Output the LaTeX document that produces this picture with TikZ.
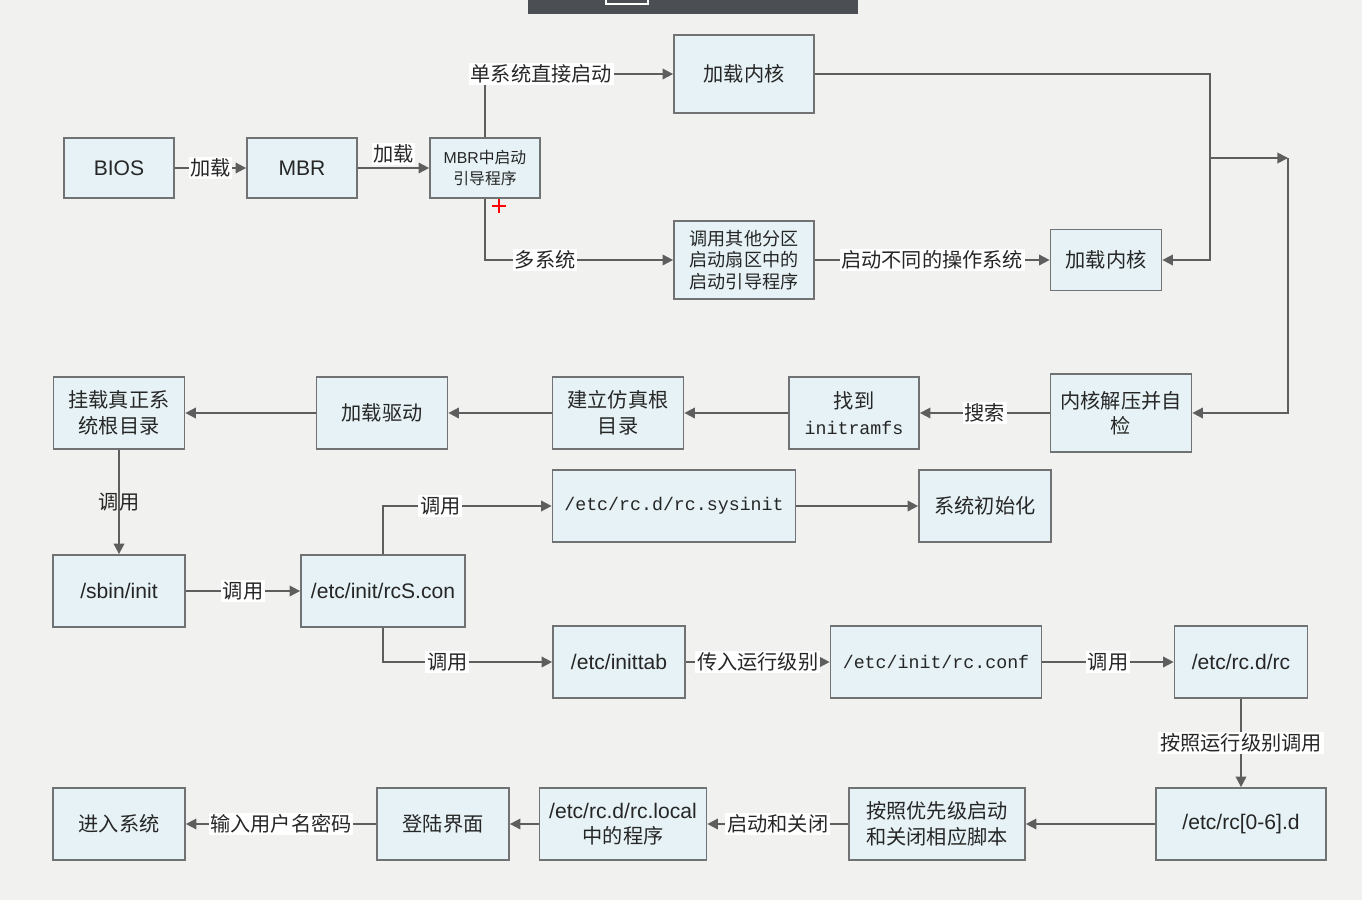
\documentclass[tikz,border=0pt]{standalone}
\usepackage{fontspec}
\setmainfont{Liberation Sans}
\newfontfamily\cjk{Noto Sans CJK SC}
\newfontfamily\monofont{Liberation Mono}
\usetikzlibrary{arrows.meta, positioning}
\definecolor{bgcol}{HTML}{F1F1EF}
\definecolor{barcol}{HTML}{4B4E53}
\definecolor{boxfill}{HTML}{E6F2F5}
\definecolor{boxline}{HTML}{707274}
\definecolor{linecol}{HTML}{5E5E5E}
\definecolor{textcol}{HTML}{262626}
\tikzstyle{box} = [rectangle, draw=boxline, fill=boxfill, line width=1pt, inner sep=0pt, minimum height=1.44cm, align=center, text=textcol, font=\cjk\fontsize{11.5}{14.5}\selectfont]
\tikzstyle{arrow} = [line width=1pt, draw=linecol, -{Triangle[length=6pt,width=6pt]}]
\tikzstyle{lab} = [fill=white, inner sep=1pt, text=textcol, font=\cjk\fontsize{11.5}{14}\selectfont]
\tikzstyle{sans} = [font=\fontsize{12}{14.5}\selectfont]
\tikzstyle{mono} = [font=\monofont\fontsize{10.4}{13}\selectfont]

\begin{document}
\begin{tikzpicture}[x=0.02cm, y=-0.02cm]
\fill[bgcol] (0,0) rectangle (1362,900);
\useasboundingbox (0,0) rectangle (1362,900);
% player bar and cursor
\fill[barcol] (528,0) rectangle (858,14);
\draw[white, line width=0.8pt] (606,-1) rectangle (648,4);
\draw[red, line width=1.2pt] (492,206) -- (506,206) (499,199) -- (499,213);

% boot loader
\node (bios) [box, minimum width=2.2cm, minimum height=1.2cm, sans] at (119,168) {BIOS};
\node (mbr) [box, minimum width=2.2cm, minimum height=1.2cm, sans] at (302,168) {MBR};
\node (boot) [box, minimum width=2.2cm, minimum height=1.2cm, font=\fontsize{9}{11.5}\selectfont] at (485,168) {MBR{\cjk 中启动}\\{\cjk 引导程序}};
\node (kern1) [box, minimum width=2.8cm, minimum height=1.56cm] at (744,74) {加载内核};
\node (other) [box, minimum width=2.8cm, minimum height=1.56cm, font=\cjk\fontsize{10.3}{12.2}\selectfont] at (744,260) {调用其他分区\\启动扇区中的\\启动引导程序};
\node (kern2) [box, minimum width=2.22cm, minimum height=1.22cm] at (1106,260) {加载内核};

% kernel
\node (jieya) [box, minimum width=2.82cm, minimum height=1.56cm] at (1121,413) {内核解压并自\\检};
\node (initrd) [box, minimum width=2.6cm] at (854,413) {找到\\{\monofont\fontsize{10.4}{14.5}\selectfont initramfs}};
\node (fakeroot) [box, minimum width=2.62cm] at (618,413) {建立仿真根\\目录};
\node (driver) [box, minimum width=2.62cm] at (382,413) {加载驱动};
\node (mount) [box, minimum width=2.62cm] at (119,413) {挂载真正系\\统根目录};

% init
\node (sbin) [box, minimum width=2.64cm, sans] at (119,591) {/sbin/init};
\node (rcs) [box, minimum width=3.28cm, sans] at (383,591) {/etc/init/rcS.con};
\node (sysinit) [box, minimum width=4.86cm, mono] at (674,506) {/etc/rc.d/rc.sysinit};
\node (sysdone) [box, minimum width=2.64cm] at (985,506) {系统初始化};
\node (inittab) [box, minimum width=2.64cm, sans] at (619,662) {/etc/inittab};
\node (rcconf) [box, minimum width=4.22cm, mono] at (936,662) {/etc/init/rc.conf};
\node (rcd) [box, minimum width=2.66cm, sans] at (1241,662) {/etc/rc.d/rc};
\node (rcn) [box, minimum width=3.4cm, sans] at (1241,824) {/etc/rc[0-6].d};
\node (prio) [box, minimum width=3.52cm] at (937,824) {按照优先级启动\\和关闭相应脚本};
\node (rclocal) [box, minimum width=3.34cm, sans] at (623,824) {/etc/rc.d/rc.local\\{\cjk\fontsize{11.5}{14.5}\selectfont 中的程序}};
\node (login) [box, minimum width=2.64cm] at (443,824) {登陆界面};
\node (enter) [box, minimum width=2.64cm] at (119,824) {进入系统};

\coordinate (merge) at (1210,158);
\coordinate (turn) at (1288,158);

\draw [arrow] (bios) -- node[lab] {加载} (mbr);
\draw [arrow] (mbr) -- node[lab, above=1pt] {加载} (boot);
\draw [arrow] (boot.north) |- node[lab, pos=0.65] {单系统直接启动} (kern1);
\draw [arrow] (boot.south) |- node[lab, pos=0.66] {多系统} (other);
\draw [arrow] (other) -- node[lab] {启动不同的操作系统} (kern2);
\draw [arrow] (kern1) -| (merge) |- (kern2);
\draw [arrow] (merge) -- (turn);
\draw [arrow] (turn) |- (jieya);
\draw [arrow] (jieya) -- node[lab] {搜索} (initrd);
\draw [arrow] (initrd) -- (fakeroot);
\draw [arrow] (fakeroot) -- (driver);
\draw [arrow] (driver) -- (mount);
\draw [arrow] (mount) -- node[lab, fill=none] {调用} (sbin);
\draw [arrow] (sbin) -- node[lab] {调用} (rcs);
\draw [arrow] (rcs.north) |- node[lab, pos=0.67] {调用} (sysinit);
\draw [arrow] (sysinit) -- (sysdone);
\draw [arrow] (rcs.south) |- node[lab, pos=0.69] {调用} (inittab);
\draw [arrow] (inittab) -- node[lab] {传入运行级别} (rcconf);
\draw [arrow] (rcconf) -- node[lab] {调用} (rcd);
\draw [arrow] (rcd) -- node[lab] {按照运行级别调用} (rcn);
\draw [arrow] (rcn) -- (prio);
\draw [arrow] (prio) -- node[lab] {启动和关闭} (rclocal);
\draw [arrow] (rclocal) -- (login);
\draw [arrow] (login) -- node[lab] {输入用户名密码} (enter);
\end{tikzpicture}
\end{document}
